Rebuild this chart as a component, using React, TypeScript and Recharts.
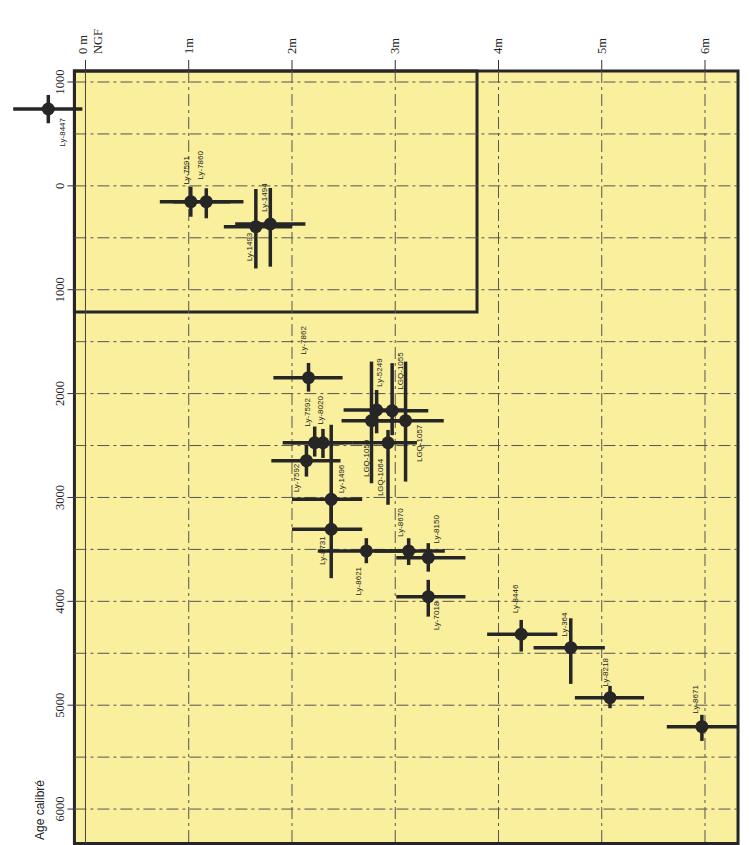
import {
  ScatterChart,
  Scatter,
  XAxis,
  YAxis,
  ErrorBar,
  ReferenceArea,
  ReferenceLine,
} from "recharts";

// Radiocarbon samples: depth (m NGF) against calibrated age (negative = AD, positive = BC).
const SAMPLES = [
  "Ly-8447", "Ly-7591", "Ly-7860", "Ly-1493", "Ly-1494", "Ly-7862",
  "Ly-5249", "LGQ-1055", "LGQ-1050", "LGQ-1057", "LGQ-1064", "Ly-7592",
  "Ly-8020", "Ly-7592", "Ly-1496", "Ly-8731", "Ly-8621", "Ly-8670",
  "Ly-8150", "Ly-7018", "Ly-8446", "Ly-364", "Ly-8218", "Ly-8671",
];
const DEPTH = [
  -0.36, 1.02, 1.17, 1.65, 1.79, 2.16,
  2.82, 2.97, 2.77, 3.1, 2.93, 2.22,
  2.3, 2.14, 2.38, 2.38, 2.72, 3.13,
  3.32, 3.32, 4.22, 4.7, 5.08, 5.97,
];
const DEPTH_MIN = [
  -0.7, 0.72, 0.85, 1.34, 1.45, 1.82,
  2.5, 2.75, 2.48, 2.8, 2.59, 1.91,
  2.0, 1.8, 2.0, 2.0, 2.25, 2.8,
  3.01, 3.01, 3.89, 4.34, 4.74, 5.63,
];
const DEPTH_MAX = [
  -0.03, 1.4, 1.53, 2.0, 2.13, 2.49,
  3.1, 3.32, 3.15, 3.47, 3.21, 2.5,
  2.59, 2.47, 2.68, 2.68, 3.2, 3.48,
  3.68, 3.68, 4.57, 5.03, 5.41, 6.31,
];
const AGE = [
  -740, 152, 152, 393, 367, 1847,
  2158, 2164, 2261, 2261, 2473, 2473,
  2473, 2646, 3018, 3306, 3515, 3515,
  3580, 3955, 4317, 4446, 4928, 5207,
];
const AGE_MIN = [
  -875, 8, 23, 30, 20, 1705,
  1965, 1707, 1692, 1692, 2350, 2317,
  2340, 2494, 2300, 3000, 3392, 3392,
  3440, 3793, 4179, 4163, 4814, 5093,
];
const AGE_MAX = [
  -603, 297, 312, 795, 778, 1981,
  2382, 2400, 2863, 2847, 3070, 2606,
  2620, 2799, 3300, 3777, 3633, 3650,
  3714, 4147, 4484, 4795, 5029, 5344,
];

const X_TICKS = [0, 1, 2, 3, 4, 5, 6];
const Y_TICKS = [-1000, 0, 1000, 2000, 3000, 4000, 5000, 6000];
const Y_GRID = [-1000, -500, 0, 500, 1000, 1500, 2000, 2500, 3000, 3500, 4000, 4500, 5000, 5500, 6000];
const X_GRID = [1, 2, 3, 4, 5, 6];

// label placement next to each point: [dx, dy, direction]
const LABEL_POS: [number, number, "up" | "down"][] = [
  [14, 9, "down"], [-4, -17, "up"], [-6, -22, "up"], [-6, 6, "down"], [-6, -12, "up"], [-5, -23, "up"],
  [3, -23, "up"], [8, -21, "up"], [-5, 19, "down"], [14, 4, "down"], [-8, 16, "down"], [-7, -16, "up"],
  [-2, -18, "up"], [-10, 3, "down"], [10, -6, "up"], [-9, 7, "down"], [-8, 16, "down"], [-8, -14, "up"],
  [8, -14, "up"], [8, 5, "down"], [-6, -21, "up"], [-6, -11, "up"], [-5, -11, "up"], [-6, -13, "up"],
];

const W = 749;
const H = 845;
const X_AXIS_H = 71;
const Y_AXIS_W = 10;
const MARGIN = { top: 0, right: 9, bottom: 0, left: 0 };
const X_DOMAIN: [number, number] = [-0.731, 6.339];
const Y_DOMAIN: [number, number] = [-1106, 6346];
const FRAME = { x0: -0.107, x1: 6.32, y0: -1106, y1: 6331 };
const BOX = { x1: 3.792, y1: 1214 };

const YELLOW = "#f9ef9c";
const INK = "#262626";
const SERIF = "'Liberation Serif', 'DejaVu Serif', serif";
const NARROW = "'Liberation Sans Narrow', 'Liberation Sans', sans-serif";

const PLOT_LEFT = MARGIN.left + Y_AXIS_W;
const PLOT_W = W - PLOT_LEFT - MARGIN.right;
const FRAME_LEFT_PX = PLOT_LEFT + ((FRAME.x0 - X_DOMAIN[0]) / (X_DOMAIN[1] - X_DOMAIN[0])) * PLOT_W;

const data = SAMPLES.map((name, i) => ({
  i,
  name,
  depth: DEPTH[i],
  age: AGE[i],
  xErr: [DEPTH[i] - DEPTH_MIN[i], DEPTH_MAX[i] - DEPTH[i]],
  yErr: [AGE[i] - AGE_MIN[i], AGE_MAX[i] - AGE[i]],
}));

const XTick = ({ x, y, payload }: any) => (
  <g transform={`translate(${x},${y})`}>
    <text
      transform="rotate(-90)"
      textAnchor="start"
      dominantBaseline="central"
      fontFamily={SERIF}
      fontSize={12.5}
      fill="#222"
    >
      {payload.value === 0 ? (
        <>
          <tspan x={0} y={-2.5}>0 m</tspan>
          <tspan x={0} y={12.5}>NGF</tspan>
        </>
      ) : (
        <tspan x={0} y={0}>{payload.value}m</tspan>
      )}
    </text>
  </g>
);

const YTick = ({ y, payload }: any) => (
  <g transform={`translate(${FRAME_LEFT_PX},${y})`}>
    <line x1={-7} x2={0} y1={0} y2={0} stroke="#333" strokeWidth={1} />
    <text
      transform="rotate(-90)"
      x={0}
      y={-14}
      textAnchor="middle"
      dominantBaseline="central"
      fontFamily={SERIF}
      fontSize={12.5}
      fill="#222"
    >
      {Math.abs(payload.value)}
    </text>
    {payload.value === Y_TICKS[Y_TICKS.length - 1] && (
      <text
        transform={`translate(${40 - FRAME_LEFT_PX},${840 - y}) rotate(-90)`}
        textAnchor="start"
        dominantBaseline="central"
        fontFamily="'Liberation Sans', sans-serif"
        fontSize={12}
        fill="#222"
      >
        Age calibré
      </text>
    )}
  </g>
);

const Dot = (props: any) => {
  const { cx, cy, payload } = props;
  const [dx, dy, dir] = LABEL_POS[payload.i];
  return (
    <g>
      <circle cx={cx} cy={cy} r={6.5} fill={INK} />
      <text
        transform={`translate(${cx + dx},${cy + dy}) rotate(-90)`}
        textAnchor={dir === "up" ? "start" : "end"}
        dominantBaseline="central"
        fontFamily={NARROW}
        fontSize={8}
        fill="#222"
      >
        {payload.name}
      </text>
    </g>
  );
};

const dash = "12 4 3 4";

export default function App() {
  return (
    <div style={{ position: "absolute", left: 0, top: 0, width: W, height: H, background: "#fff" }}>
      <ScatterChart width={W} height={H} margin={MARGIN}>
        <XAxis
          type="number"
          dataKey="depth"
          orientation="top"
          domain={X_DOMAIN}
          allowDataOverflow
          ticks={X_TICKS}
          height={X_AXIS_H}
          axisLine={false}
          tickLine={{ stroke: "#333", strokeWidth: 1 }}
          tickSize={11}
          tickMargin={6}
          tick={<XTick />}
          interval={0}
        />
        <YAxis
          type="number"
          dataKey="age"
          domain={Y_DOMAIN}
          allowDataOverflow
          reversed
          ticks={Y_TICKS}
          width={Y_AXIS_W}
          axisLine={false}
          tickLine={false}
          tick={<YTick />}
          interval={0}
        />
        <ReferenceArea
          x1={FRAME.x0}
          x2={FRAME.x1}
          y1={FRAME.y0}
          y2={FRAME.y1}
          fill={YELLOW}
          fillOpacity={1}
          stroke="none"
        />
        {Y_GRID.map((v) => (
          <ReferenceLine
            key={`h${v}`}
            segment={[{ x: FRAME.x0, y: v }, { x: FRAME.x1, y: v }]}
            stroke="#555"
            strokeWidth={1}
            strokeDasharray={dash}
          />
        ))}
        {X_GRID.map((v) => (
          <ReferenceLine
            key={`v${v}`}
            segment={[{ x: v, y: FRAME.y0 }, { x: v, y: FRAME.y1 }]}
            stroke="#555"
            strokeWidth={1}
            strokeDasharray={dash}
          />
        ))}
        <ReferenceLine
          segment={[{ x: 0, y: FRAME.y0 }, { x: 0, y: FRAME.y1 }]}
          stroke="#444"
          strokeWidth={1}
        />
        <ReferenceArea
          x1={FRAME.x0}
          x2={BOX.x1}
          y1={FRAME.y0}
          y2={BOX.y1}
          fill="none"
          fillOpacity={0}
          stroke={INK}
          strokeWidth={3}
        />
        <ReferenceArea
          x1={FRAME.x0}
          x2={FRAME.x1}
          y1={FRAME.y0}
          y2={FRAME.y1}
          fill="none"
          fillOpacity={0}
          stroke={INK}
          strokeWidth={3}
        />
        <Scatter data={data} shape={<Dot />} isAnimationActive={false}>
          <ErrorBar dataKey="xErr" direction="x" width={0} stroke={INK} strokeWidth={3.5} isAnimationActive={false} />
          <ErrorBar dataKey="yErr" direction="y" width={0} stroke={INK} strokeWidth={3.5} isAnimationActive={false} />
        </Scatter>
      </ScatterChart>
    </div>
  );
}
